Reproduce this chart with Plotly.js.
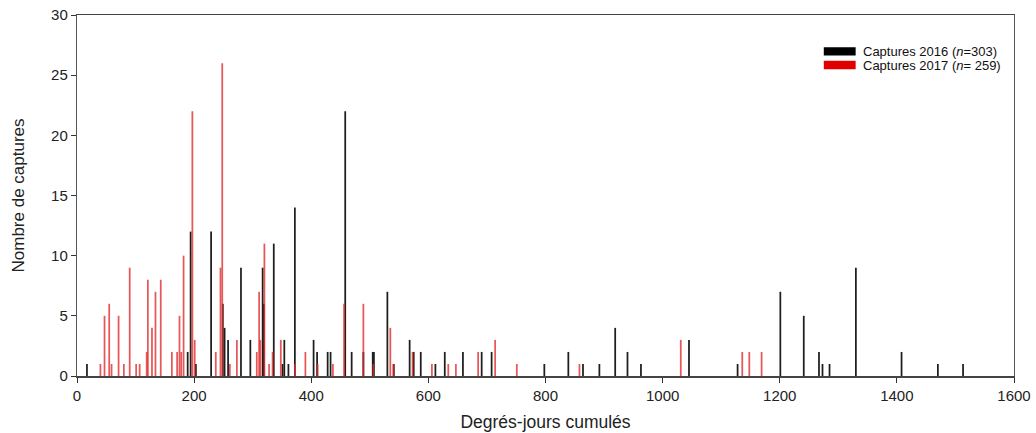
<!DOCTYPE html>
<html>
<head>
<meta charset="utf-8">
<script src="https://cdn.plot.ly/plotly-3.0.1.min.js"></script>
<style>html,body{margin:0;padding:0;background:#fff;}#chart{width:1036px;height:433px;}</style>
</head>
<body>
<div id="chart"></div>
<script>
// Captures 2016 (black)
const x2016 = [17, 189, 194, 203, 229, 249, 252, 258, 280, 296, 317, 319, 336, 351, 354, 361, 372, 404, 410, 428, 433, 458, 469, 489, 505, 507, 530, 541, 568, 575, 587, 612, 628, 659, 691, 708, 798, 839, 864, 892, 919, 940, 963, 1045, 1128, 1201, 1241, 1267, 1273, 1285, 1330, 1408, 1470, 1513];
const y2016 = [1, 2, 12, 1, 12, 6, 4, 3, 9, 3, 9, 6, 11, 1, 3, 1, 14, 3, 2, 2, 2, 22, 2, 2, 2, 2, 7, 1, 3, 2, 2, 1, 2, 2, 2, 2, 1, 2, 1, 1, 4, 2, 1, 3, 1, 7, 5, 2, 1, 1, 9, 2, 1, 1];
// Captures 2017 (red)
const x2017 = [40, 47, 55, 59, 71, 80, 90, 101, 107, 119, 121, 128, 134, 143, 162, 171, 175, 178, 182, 197, 201, 237, 245, 248, 261, 273, 307, 311, 313, 320, 328, 334, 348, 372, 390, 411, 437, 456, 489, 506, 535, 540, 573, 606, 634, 647, 685, 714, 751, 858, 1031, 1136, 1148, 1169];
const y2017 = [1, 5, 6, 1, 5, 1, 9, 1, 1, 2, 8, 4, 7, 8, 2, 2, 5, 2, 10, 22, 3, 2, 9, 26, 1, 3, 2, 7, 3, 11, 1, 2, 3, 1, 2, 1, 1, 6, 6, 1, 4, 1, 2, 1, 1, 1, 2, 3, 1, 1, 3, 2, 2, 2];
const xTicks = [0, 200, 400, 600, 800, 1000, 1200, 1400, 1600];
const yTicks = [0, 5, 10, 15, 20, 25, 30];
const legendLabels = ['Captures 2016 (<i>n</i>=303)', 'Captures 2017 (<i>n</i>= 259)'];

const fontFam = 'Liberation Sans, Arial, sans-serif';
const traces = [
  {type: 'bar', name: 'Captures 2016', x: x2016, y: y2016, width: 3,
   marker: {color: '#1e1e1e', line: {width: 0}}, showlegend: false, hoverinfo: 'x+y'},
  {type: 'bar', name: 'Captures 2017', x: x2017, y: y2017, width: 3,
   marker: {color: 'rgba(226,40,40,0.78)', line: {width: 0}}, showlegend: false, hoverinfo: 'x+y'}
];
const layout = {
  width: 1036, height: 433,
  margin: {l: 77, r: 22, t: 15, b: 57},
  paper_bgcolor: '#fff', plot_bgcolor: '#fff',
  barmode: 'overlay',
  font: {family: fontFam, size: 15, color: '#222'},
  xaxis: {range: [0, 1600], tickvals: xTicks, ticktext: xTicks.map(String),
    ticks: 'outside', ticklen: 5, tickcolor: '#333', showgrid: false, zeroline: false,
    showline: true, linecolor: '#444', linewidth: 1.5, mirror: true,
    tickfont: {size: 15, family: fontFam, color: '#222'},
    title: {text: 'Degrés-jours cumulés', font: {size: 17.5, family: fontFam, color: '#222'}, standoff: 13}},
  yaxis: {range: [0, 30], tickvals: yTicks, ticktext: yTicks.map(String),
    ticks: 'outside', ticklen: 5, tickcolor: '#333', showgrid: false, zeroline: false,
    showline: true, linecolor: '#555', linewidth: 1.2, mirror: true,
    tickfont: {size: 15, family: fontFam, color: '#222'},
    title: {text: 'Nombre de captures', font: {size: 17, family: fontFam, color: '#222'}, standoff: 22}},
  shapes: [
    {type: 'rect', xref: 'paper', yref: 'paper', x0: 0.797, x1: 0.831, y0: 0.888, y1: 0.911, fillcolor: '#000', line: {width: 0}},
    {type: 'rect', xref: 'paper', yref: 'paper', x0: 0.797, x1: 0.831, y0: 0.85, y1: 0.873, fillcolor: '#e00000', line: {width: 0}}
  ],
  annotations: [
    {xref: 'paper', yref: 'paper', x: 0.837, y: 0.899, xanchor: 'left', yanchor: 'middle', showarrow: false,
     text: legendLabels[0], font: {size: 13, family: fontFam, color: '#111'}},
    {xref: 'paper', yref: 'paper', x: 0.837, y: 0.861, xanchor: 'left', yanchor: 'middle', showarrow: false,
     text: legendLabels[1], font: {size: 13, family: fontFam, color: '#111'}}
  ]
};
Plotly.newPlot('chart', traces, layout, {displayModeBar: false, staticPlot: true});
</script>
</body>
</html>
